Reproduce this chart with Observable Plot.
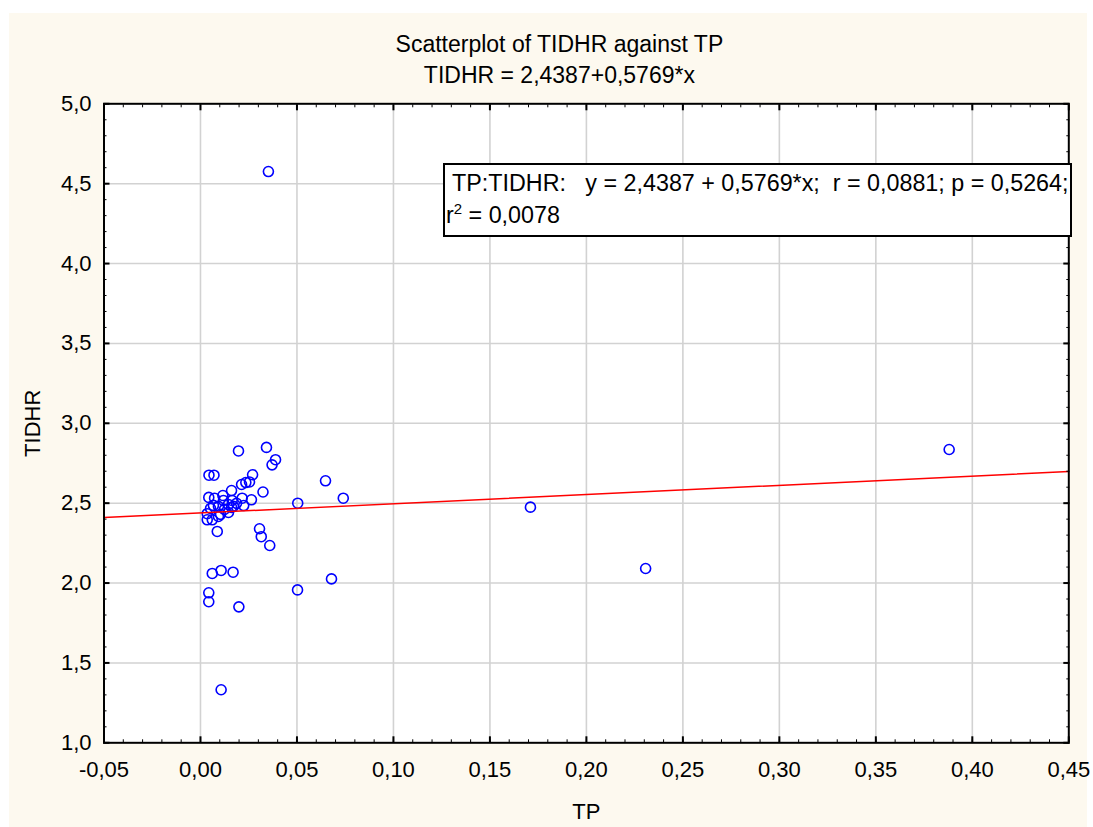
<!DOCTYPE html>
<html>
<head>
<meta charset="utf-8">
<script src="https://cdn.jsdelivr.net/npm/d3@7"></script>
<script src="https://cdn.jsdelivr.net/npm/@observablehq/plot@0.6"></script>
<style>
  html, body { margin: 0; padding: 0; background: #ffffff; }
  #wrap { position: relative; width: 1093px; height: 827px; font-family: "Liberation Sans", Arial, sans-serif; }
  #panel { position: absolute; left: 9px; top: 13px; width: 1078px; height: 814px; background: #fdf9ef; }
  #chart { position: absolute; left: 0; top: 0; }
  #chart svg { background: none; overflow: visible; }
  #stats {
    position: absolute; left: 443px; top: 163px; width: 625px; height: 70px;
    background: #ffffff; border: 2px solid #000; white-space: pre;
    font-size: 23.3px; color: #000; box-sizing: content-box;
  }
  #stats .l1 { position: absolute; left: 1px; top: 5px; }
  #stats .l2 { position: absolute; left: 1px; top: 37px; }
  #stats sup { font-size: 15px; vertical-align: 0; position: relative; top: -9px; }
</style>
</head>
<body>
<div id="wrap">
  <div id="panel"></div>
  <div id="chart"></div>
  <div id="stats"><span class="l1"> TP:TIDHR:   y = 2,4387 + 0,5769*x;  r = 0,0881; p = 0,5264;</span><span class="l2">r<sup>2</sup> = 0,0078</span></div>
</div>
<script>
// Observations: TP (x) and TIDHR (y)
const tp = [
  0.0352, 0.388, 0.171, 0.2307, 0.0679, 0.0503, 0.0199, 0.0043, 0.0043, 0.0061,
  0.0107, 0.0169, 0.0107, 0.0359, 0.0315, 0.0306, 0.0087, 0.0504, 0.0740, 0.0648,
  0.0324, 0.0264, 0.0224, 0.0216, 0.0161, 0.0213, 0.0235, 0.0254, 0.0270, 0.0197,
  0.0342, 0.0389, 0.0371, 0.0044, 0.0070, 0.0043, 0.0073, 0.0116, 0.0164, 0.0035,
  0.0035, 0.0061, 0.0093, 0.0124, 0.0145, 0.0171, 0.0093, 0.0067, 0.0119, 0.0187,
  0.0145, 0.0052, 0.0104, 0.0161
];
const tidhr = [
  4.576, 2.836, 2.475, 2.091, 2.026, 1.957, 1.851, 1.939, 1.883, 2.060,
  2.079, 2.068, 1.332, 2.235, 2.290, 2.340, 2.323, 2.500, 2.531, 2.640,
  2.570, 2.521, 2.485, 2.531, 2.579, 2.617, 2.629, 2.633, 2.678, 2.827,
  2.849, 2.772, 2.740, 2.675, 2.675, 2.536, 2.531, 2.548, 2.517, 2.434,
  2.396, 2.396, 2.480, 2.461, 2.492, 2.480, 2.417, 2.486, 2.517, 2.499,
  2.442, 2.467, 2.430, 2.474
];

// Fitted regression TIDHR = a + b*TP
const intercept = 2.4387;
const slope = 0.5769;

// Axis ticks
const xTicks = [-0.05, 0, 0.05, 0.10, 0.15, 0.20, 0.25, 0.30, 0.35, 0.40, 0.45];
const yTicks = [1.0, 1.5, 2.0, 2.5, 3.0, 3.5, 4.0, 4.5, 5.0];
const xMinor = d3.range(-5, 46).map(i => i / 100);
const yMinor = d3.range(10, 51).map(i => i / 10);

const titleText = "Scatterplot of TIDHR against TP";
const subtitleText = "TIDHR = 2,4387+0,5769*x";
const xLabel = "TP";
const yLabel = "TIDHR";

const points = tp.map((x, i) => ({x, y: tidhr[i]}));
const fit = [xTicks[0], xTicks[xTicks.length - 1]].map(x => ({x, y: intercept + slope * x}));

const comma = (d, n) => (d < 0 ? "-" : "") + Math.abs(d).toFixed(n).replace(".", ",");

const font = 22;
const innerX = xTicks.slice(1, -1);
const innerY = yTicks.slice(1, -1);

const chart = Plot.plot({
  width: 1093,
  height: 827,
  marginLeft: 103.5,
  marginTop: 103.3,
  marginRight: 24.7,
  marginBottom: 84.7,
  style: {fontFamily: '"Liberation Sans", Arial, sans-serif', fontSize: font + "px", color: "#000", background: "none"},
  x: {domain: [-0.05, 0.45]},
  y: {domain: [1, 5]},
  marks: [
    Plot.frame({fill: "#ffffff", stroke: null}),
    Plot.gridX(innerX, {stroke: "#d2d2d2", strokeOpacity: 1, strokeWidth: 1.6}),
    Plot.gridY(innerY, {stroke: "#d2d2d2", strokeOpacity: 1, strokeWidth: 1.6}),
    Plot.dot(points, {x: "x", y: "y", r: 5, stroke: "#0000ff", strokeWidth: 1.6, fill: "none"}),
    Plot.line(fit, {x: "x", y: "y", stroke: "#ff0000", strokeWidth: 1.5}),
    // inward ticks on all four sides
    Plot.axisX(xMinor, {anchor: "bottom", tickSize: 3, dy: -3, text: null, label: null}),
    Plot.axisX(xMinor, {anchor: "top", tickSize: 3, dy: 3, text: null, label: null}),
    Plot.axisY(yMinor, {anchor: "left", tickSize: 3, dx: 3, text: null, label: null}),
    Plot.axisY(yMinor, {anchor: "right", tickSize: 3, dx: -3, text: null, label: null}),
    Plot.axisX(xTicks, {anchor: "bottom", tickSize: 6, dy: -6, text: null, label: null, strokeWidth: 2}),
    Plot.axisX(xTicks, {anchor: "top", tickSize: 6, dy: 6, text: null, label: null, strokeWidth: 2}),
    Plot.axisY(yTicks, {anchor: "left", tickSize: 6, dx: 6, text: null, label: null, strokeWidth: 2}),
    Plot.axisY(yTicks, {anchor: "right", tickSize: 6, dx: -6, text: null, label: null, strokeWidth: 2}),
    // tick labels
    Plot.axisX(xTicks, {anchor: "bottom", tickSize: 0, tickPadding: 19, tickFormat: d => comma(d, 2), fontSize: font, label: null}),
    Plot.axisY(yTicks, {anchor: "left", tickSize: 0, tickPadding: 12.5, tickFormat: d => comma(d, 1), fontSize: font, label: null}),
    Plot.frame({stroke: "#000", strokeWidth: 2}),
    // titles
    Plot.text([titleText], {frameAnchor: "top", lineAnchor: "middle", dx: -27, dy: -59.5, fontSize: 23}),
    Plot.text([subtitleText], {frameAnchor: "top", lineAnchor: "middle", dx: -27, dy: -28.5, fontSize: 23}),
    Plot.text([xLabel], {frameAnchor: "bottom", lineAnchor: "middle", dy: 69, fontSize: font}),
    Plot.text([yLabel], {frameAnchor: "left", lineAnchor: "middle", textAnchor: "middle", dx: -71, rotate: -90, fontSize: font})
  ]
});
document.getElementById("chart").appendChild(chart);
</script>
</body>
</html>
